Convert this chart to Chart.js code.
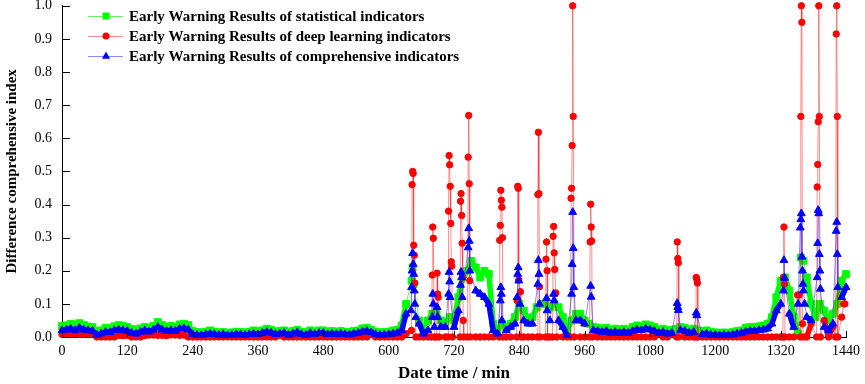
<!DOCTYPE html>
<html>
<head>
<meta charset="utf-8">
<script src="https://cdn.jsdelivr.net/npm/chart.js@4/dist/chart.umd.min.js"></script>
<style>
  html, body { margin: 0; padding: 0; background: #fff; }
  #wrap { width: 865px; height: 384px; }
</style>
</head>
<body>
<div id="wrap"><canvas id="chart" width="865" height="384"></canvas></div>
<script>
// ---------------------
// data (minutes 0..1440)
// ---------------------
const GRID_STEP = 8; // baseline read every 8 min
const xTicks = [0, 120, 240, 360, 480, 600, 720, 840, 960, 1080, 1200, 1320, 1440];
const seriesLabels = [
  "Early Warning Results of statistical indicators",
  "Early Warning Results of deep learning indicators",
  "Early Warning Results of comprehensive indicators"
];

// statistical indicators (green squares)
const statGrid = [
  .033,.035,.04,.038,.042,.036,.032,.03,.018,.02,.028,.025,.032,.036,.034,
  .03,.024,.02,.026,.03,.028,.034,.045,.036,.03,.034,.03,.038,.04,.036,
  .018,.015,.014,.016,.02,.016,.014,.015,.012,.014,.016,.015,.014,.016,.02,
  .016,.02,.025,.022,.016,.018,.02,.014,.018,.022,.016,.014,.02,.016,.02,
  .02,.016,.018,.015,.018,.016,.015,.018,.02,.026,.028,.022,.016,.014,.015,
  .016,.02,.022,.035,.1,.17,.12,.05,.02,.05,.07,.07,.05,.04,.06,
  .05,.12,.18,.2,.23,.21,.18,.2,.19,.04,.02,.04,.03,.04,.06,
  .1,.08,.05,.06,.09,.1,.1,.09,.1,.09,.06,.02,.05,.07,.07,
  .05,.04,.03,.028,.025,.028,.022,.025,.022,.025,.022,.03,.035,.032,.038,
  .035,.03,.022,.025,.02,.022,.025,.03,.028,.022,.025,.02,.018,.02,.016,
  .014,.012,.014,.012,.015,.018,.02,.028,.03,.03,.032,.035,.04,.06,.12,
  .17,.18,.14,.06,.01,.22,.18,.1,.06,.1,.08,.05,.07,.1,.17,
  .19
];
const statPeakMin = [642, 644, 646, 1357, 1362];
const statPeakVal = [.17, .21, .16, .24, .23];

// deep learning indicators (red circles)
const deepGrid = [
  .008,.01,.008,.01,.008,.008,.01,.008,0,0,0,0,0,.005,.004,
  .005,0,0,0,.004,.006,.006,.005,.005,.004,.006,.006,.005,.006,0,
  0,0,0,0,0,0,0,0,0,0,0,0,0,0,0,
  0,0,0,0,0,.005,0,0,0,0,0,0,0,0,0,
  0,0,0,0,0,0,0,0,0,0,0,.008,0,0,0,
  0,0,0,0,.01,.02,0,0,0,0,0,0,0,0,0,
  0,0,0,0,0,0,0,0,0,0,0,0,0,0,0,
  0,0,0,0,0,0,0,0,0,0,0,0,0,0,0,
  0,0,0,0,0,0,0,0,0,0,0,0,0,0,0,
  0,0,.012,0,0,.01,0,0,0,0,0,0,0,0,0,
  0,0,0,0,0,0,0,0,0,0,0,0,0,0,0,
  0,0,0,0,0,0,0,.04,.04,0,.05,0,.03,0,.06,
  .1
];
const deepPeakMin = [
  642,643,644,645,646,647,648,650,
  678,680,681,682,684,688,689,690,691,693,
  709,710,711,712,713,714,715,716,717,
  731,732,733,734,735,736,737,738,
  745,746,747,748,749,750,
  803,804,805,806,807,808,809,810,
  835,836,837,838,839,842,843,
  873,874,875,876,877,878,
  888,889,890,891,892,
  901,902,903,904,905,907,909,
  934,935,936,937,938,939,941,
  969,970,971,972,973,974,
  1129,1130,1131,1132,1133,
  1164,1165,1166,1167,1168,
  1324,1325,1326,1327,1328,
  1351,1354,1356,1357,1358,1359,1360,1362,
  1386,1387,1388,1389,1390,1391,1393,
  1421,1422,1423,1424,1425,
  1436,1438
];
const deepPeakVal = [
  .02,.46,.5,.494,.277,.247,.163,0,
  0,.187,.332,.298,0,0,.193,.13,.12,0,
  0,.38,.548,.52,.455,.343,.227,.214,0,
  0,.41,.433,.367,.283,.18,.05,0,
  0,.543,.669,.463,.17,0,
  0,.292,.337,.443,.413,.392,.3,0,
  0,.11,.455,.449,.172,.137,0,
  0,.43,.618,.433,.152,0,
  0,.235,.287,.2,0,
  0,.304,.334,.254,.204,.133,0,
  0,.419,.449,.578,1.0,.666,0,
  0,.287,.401,.332,.29,0,
  0,.287,.237,.224,0,
  0,.18,.174,.163,0,
  0,.18,.332,.16,0,
  .127,.127,0,.666,1.0,.95,.04,0,
  0,.453,.521,.65,1.0,.666,0,
  0,.915,1.0,.666,0,
  .1,.1
];

// comprehensive indicators (blue triangles)
const compGrid = [
  .02,.022,.025,.02,.028,.022,.02,.018,.006,.01,.015,.014,.02,.022,.02,
  .018,.012,.01,.015,.02,.016,.022,.03,.022,.018,.02,.018,.025,.026,.022,
  .008,.006,.005,.008,.01,.008,.006,.008,.005,.006,.008,.007,.006,.008,.01,
  .008,.012,.015,.013,.008,.01,.012,.006,.01,.014,.008,.006,.012,.008,.012,
  .012,.008,.01,.008,.01,.008,.007,.01,.012,.016,.018,.014,.008,.006,.007,
  .008,.01,.012,.02,.07,.12,.1,.04,.01,.02,.04,.05,.03,.03,.04,
  .03,.08,.1,.14,.16,.14,.13,.12,.1,.02,.01,.03,.02,.03,.04,
  .07,.05,.04,.04,.05,.06,.06,.05,.06,.05,.03,.005,.03,.05,.05,
  .04,.03,.02,.018,.015,.018,.012,.015,.012,.015,.012,.018,.022,.02,.025,
  .022,.018,.012,.015,.01,.012,.015,.02,.018,.012,.015,.01,.008,.01,.006,
  .006,.005,.006,.005,.007,.01,.012,.016,.018,.018,.02,.022,.025,.04,.08,
  .1,.09,.07,.03,.005,.1,.06,.05,.04,.05,.03,.02,.04,.07,.12,
  .15
];
const compPeakMin = [
  641,642,643,644,645,646,647,648,650,
  680,681,682,684,689,690,
  710,711,712,713,
  732,733,734,735,
  746,747,748,749,
  805,806,807,808,
  836,837,838,839,841,
  874,875,876,877,
  890,891,
  903,904,
  936,937,938,939,940,
  971,972,
  1130,1131,1132,
  1165,1166,
  1325,1326,1327,
  1352,1356,1357,1358,1359,1360,1361,1362,1364,
  1387,1388,1389,1390,1391,1392,1393,
  1422,1423,1424,1425
];
const compPeakVal = [
  .08,.15,.2,.253,.22,.19,.14,.1,.06,
  .06,.13,.1,.03,.09,.06,
  .13,.196,.167,.12,
  .157,.196,.18,.12,
  .27,.328,.29,.2,
  .11,.15,.13,.05,
  .12,.19,.21,.17,.1,
  .16,.232,.19,.1,
  .117,.08,
  .13,.11,
  .13,.22,.377,.268,.15,
  .154,.121,
  .102,.09,.081,
  .073,.065,
  .14,.232,.178,
  .1,.33,.355,.373,.242,.2,.16,.14,.1,
  .18,.283,.383,.373,.25,.2,.145,
  .32,.347,.25,.15
];

// ---------------------
// baseline + peaks -> points (g = baseline reading)
// ---------------------
function buildPoints(grid, peakMin, peakVal){
  const pts = [];
  grid.forEach((v,i)=>{
    const m = i*GRID_STEP;
    if(!peakMin.some(p=>Math.abs(p-m)<=3)) pts.push({x:m, y:v, g:true});
  });
  peakMin.forEach((m,i)=>pts.push({x:m, y:peakVal[i], g:false}));
  return pts.sort((a,b)=>a.x-b.x);
}

const SERIF = "'Liberation Serif', 'Times New Roman', serif";
const colors = {
  green: {marker:"#00ff00", line:"rgba(0,230,0,0.6)"},
  red:   {marker:"#ff0000", line:"rgba(255,0,0,0.45)"},
  blue:  {marker:"#0000ff", line:"rgba(60,60,255,0.6)"}
};

// ---------------------
// inner ticks + legend
// ---------------------
const innerTicks = {
  id:"innerTicks",
  afterDatasetsDraw(chart){
    const ctx = chart.ctx, xs = chart.scales.x, ys = chart.scales.y;
    ctx.save();
    ctx.strokeStyle = "#000";
    ctx.lineWidth = 1;
    ctx.beginPath();
    xTicks.forEach(t=>{
      const px = Math.round(xs.getPixelForValue(t))+0.5;
      ctx.moveTo(px, ys.bottom); ctx.lineTo(px, ys.bottom-6);
    });
    ys.ticks.forEach(t=>{
      const py = Math.round(ys.getPixelForValue(t.value))+0.5;
      ctx.moveTo(xs.left, py); ctx.lineTo(xs.left+8, py);
    });
    ctx.stroke();
    ctx.restore();
  }
};

function drawMarker(ctx, style, x, y){
  ctx.beginPath();
  if(style==="rect"){ ctx.rect(x-3.5,y-3.5,7,7); }
  else if(style==="circle"){ ctx.arc(x,y,3.5,0,Math.PI*2); }
  else { ctx.moveTo(x,y-4.5); ctx.lineTo(x+4,y+2.8); ctx.lineTo(x-4,y+2.8); ctx.closePath(); }
  ctx.fill();
}

const insideLegend = {
  id:"insideLegend",
  afterDraw(chart){
    const ctx = chart.ctx;
    ctx.save();
    chart.data.datasets.forEach((ds,i)=>{
      const y = 16 + i*20;
      ctx.strokeStyle = ds.borderColor;
      ctx.lineWidth = 1;
      ctx.beginPath(); ctx.moveTo(88,y+0.5); ctx.lineTo(123,y+0.5); ctx.stroke();
      ctx.fillStyle = ds.pointBackgroundColor;
      drawMarker(ctx, ds.pointStyle, 106, y);
      ctx.fillStyle = "#000";
      ctx.font = "bold 15px "+SERIF;
      ctx.textBaseline = "middle";
      ctx.fillText(ds.label, 129, y+1);
    });
    ctx.restore();
  }
};

// ---------------------
// chart
// ---------------------
// dense markers in the original merge into a thick band; between two
// baseline readings the band is drawn wide, peaks keep thin lines
function makeSet(label, pts, c, style, radius, order){
  const wide = s => pts[s.p0DataIndex].g && pts[s.p1DataIndex].g;
  return {
    label, data:pts, order,
    borderColor:c.line, borderWidth:1,
    segment:{
      borderWidth: s => wide(s) ? 5.5 : 1,
      borderColor: s => wide(s) ? c.marker : c.line
    },
    borderJoinStyle:"round", borderCapStyle:"round",
    pointStyle:style, pointRadius:radius, pointBorderWidth:1,
    pointBackgroundColor:c.marker, pointBorderColor:c.marker,
    tension:0, clip:10
  };
}

new Chart(document.getElementById("chart"),{
  type:"line",
  data:{
    datasets:[
      makeSet(seriesLabels[0], buildPoints(statGrid,statPeakMin,statPeakVal), colors.green, "rect", 4.8, 3),
      makeSet(seriesLabels[1], buildPoints(deepGrid,deepPeakMin,deepPeakVal), colors.red, "circle", 3.2, 2),
      makeSet(seriesLabels[2], buildPoints(compGrid,compPeakMin,compPeakVal), colors.blue, "triangle", 4.5, 1)
    ]
  },
  options:{
    responsive:false,
    animation:false,
    layout:{padding:{left:0,right:19,top:5,bottom:0}},
    plugins:{legend:{display:false}, tooltip:{enabled:false}},
    scales:{
      x:{
        type:"linear", min:0, max:1440,
        grid:{display:false, drawTicks:false},
        border:{display:true, color:"#000", width:1},
        ticks:{stepSize:120, autoSkip:false, maxRotation:0, padding:6, color:"#000",
               font:{family:SERIF, size:14}, callback:v=>String(v)},
        title:{display:true, text:"Date time / min", color:"#000",
               font:{family:SERIF, size:17, weight:"bold"}, padding:{top:0,bottom:0}},
        afterFit(s){ s.height = 47; s.paddingLeft = 0; s.paddingRight = 0; }
      },
      y:{
        min:0, max:1,
        grid:{display:false, drawTicks:false},
        border:{display:true, color:"#000", width:1},
        ticks:{stepSize:0.1, padding:10, color:"#000",
               font:{family:SERIF, size:14},
               callback:v=>v.toFixed(1)},
        title:{display:true, text:"Difference comprehensive index", color:"#000",
               font:{family:SERIF, size:15, weight:"bold"}, padding:{top:3,bottom:0}},
        afterFit(s){ s.width = 62; s.paddingTop = 0; s.paddingBottom = 0; }
      }
    }
  },
  plugins:[innerTicks, insideLegend]
});
</script>
</body>
</html>
